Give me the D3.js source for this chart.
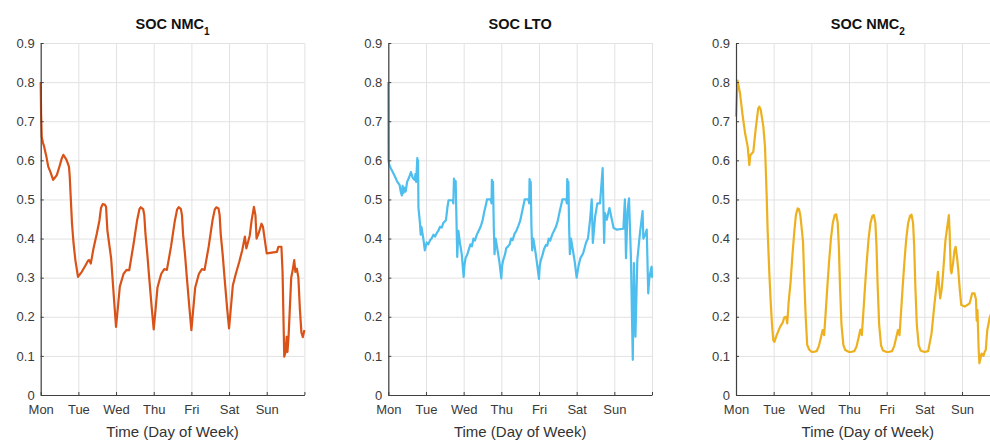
<!DOCTYPE html>
<meta charset="utf-8">
<script src="https://d3js.org/d3.v7.min.js"></script>
<style>
    body { margin: 0; background: #fff; }
    svg text { font-family: "Liberation Sans", Arial, sans-serif; }
</style>
<div id="chart"></div>
<script>
    // ---- data ----
    var dayLabels = ["Mon", "Tue", "Wed", "Thu", "Fri", "Sat", "Sun", ""];
    var dayTicks = [0, 1, 2, 3, 4, 5, 6, 7];
    var socTicks = [0, 0.1, 0.2, 0.3, 0.4, 0.5, 0.6, 0.7, 0.8, 0.9];
    var titles = ["NMC", "LTO", "NMC"];
    var subscripts = ["1", "", "2"];

    // [day, SOC]
    var nmc1 = [
        [0, 0.80], [0.01, 0.72], [0.027, 0.66], [0.06, 0.645], [0.092, 0.635], [0.15, 0.61], [0.2, 0.584],
        [0.26, 0.57], [0.33, 0.55], [0.38, 0.556], [0.43, 0.563], [0.5, 0.585], [0.56, 0.605], [0.6, 0.614],
        [0.65, 0.607], [0.69, 0.6], [0.75, 0.584], [0.77, 0.56], [0.8, 0.5], [0.83, 0.44], [0.87, 0.39],
        [0.92, 0.345], [0.99, 0.302], [1.09, 0.315], [1.18, 0.33], [1.26, 0.344], [1.29, 0.345], [1.33, 0.336],
        [1.4, 0.374], [1.49, 0.413], [1.56, 0.447], [1.6, 0.478], [1.646, 0.488], [1.7, 0.487], [1.735, 0.481],
        [1.77, 0.421], [1.82, 0.385], [1.87, 0.349], [1.95, 0.24], [2.0, 0.174],
        [2.05, 0.225], [2.1, 0.277], [2.2, 0.31], [2.28, 0.32], [2.35, 0.319], [2.46, 0.383], [2.56, 0.447],
        [2.62, 0.475], [2.655, 0.48], [2.72, 0.475], [2.75, 0.46], [2.78, 0.413], [2.83, 0.36], [2.88, 0.30],
        [2.95, 0.22], [3.0, 0.168],
        [3.05, 0.22], [3.1, 0.275], [3.2, 0.31], [3.28, 0.322], [3.35, 0.32], [3.46, 0.38], [3.56, 0.445],
        [3.62, 0.474], [3.66, 0.48], [3.72, 0.476], [3.75, 0.46], [3.78, 0.41], [3.83, 0.36], [3.88, 0.30],
        [3.95, 0.22], [4.0, 0.166],
        [4.05, 0.22], [4.1, 0.274], [4.2, 0.31], [4.28, 0.322], [4.35, 0.32], [4.46, 0.38], [4.56, 0.446],
        [4.62, 0.474], [4.66, 0.48], [4.72, 0.477], [4.75, 0.46], [4.78, 0.41], [4.83, 0.36], [4.88, 0.30],
        [4.95, 0.22], [5.0, 0.17],
        [5.1, 0.28], [5.18, 0.31], [5.27, 0.34], [5.35, 0.37], [5.42, 0.405], [5.46, 0.375], [5.55, 0.408],
        [5.6, 0.447], [5.66, 0.481], [5.7, 0.46], [5.73, 0.40], [5.79, 0.415], [5.86, 0.438], [5.9, 0.43],
        [6.0, 0.362], [6.27, 0.366], [6.31, 0.379], [6.39, 0.379], [6.42, 0.315], [6.465, 0.098], [6.5, 0.11],
        [6.53, 0.149], [6.55, 0.11], [6.58, 0.15], [6.65, 0.3], [6.69, 0.32], [6.73, 0.345], [6.76, 0.315],
        [6.8, 0.323], [6.84, 0.30], [6.88, 0.22], [6.92, 0.16], [6.96, 0.148], [7.0, 0.166]
    ];

    var lto = [
        [0, 0.80], [0.005, 0.60], [0.027, 0.588], [0.09, 0.575], [0.18, 0.558], [0.24, 0.545], [0.3, 0.537],
        [0.33, 0.52], [0.36, 0.51], [0.38, 0.535], [0.4, 0.516], [0.43, 0.53], [0.46, 0.52], [0.5, 0.545],
        [0.56, 0.558], [0.6, 0.57], [0.65, 0.555], [0.7, 0.55], [0.72, 0.565], [0.74, 0.545], [0.77, 0.606],
        [0.78, 0.55], [0.79, 0.60], [0.8, 0.48], [0.82, 0.46], [0.84, 0.44], [0.86, 0.41], [0.88, 0.43],
        [0.93, 0.40], [0.97, 0.37], [1.02, 0.39], [1.06, 0.385], [1.11, 0.396], [1.15, 0.40], [1.2, 0.41],
        [1.24, 0.405], [1.28, 0.413], [1.33, 0.42], [1.37, 0.43], [1.42, 0.428], [1.46, 0.44], [1.53, 0.447],
        [1.57, 0.48], [1.6, 0.498], [1.71, 0.498], [1.726, 0.49], [1.743, 0.553], [1.77, 0.545], [1.788, 0.547],
        [1.81, 0.447], [1.83, 0.353], [1.86, 0.42], [1.9, 0.39], [1.95, 0.36], [2.0, 0.302],
        [2.02, 0.33], [2.05, 0.35], [2.1, 0.36], [2.13, 0.37], [2.18, 0.385], [2.22, 0.38], [2.26, 0.40],
        [2.3, 0.395], [2.35, 0.41], [2.4, 0.42], [2.45, 0.43], [2.5, 0.445], [2.55, 0.47], [2.6, 0.49],
        [2.62, 0.50], [2.72, 0.50], [2.74, 0.49], [2.75, 0.55], [2.77, 0.54], [2.78, 0.545], [2.8, 0.43],
        [2.82, 0.36], [2.85, 0.40], [2.9, 0.37], [2.95, 0.34], [3.0, 0.298],
        [3.02, 0.33], [3.05, 0.345], [3.1, 0.36], [3.13, 0.375], [3.18, 0.38], [3.22, 0.385], [3.26, 0.40],
        [3.3, 0.396], [3.35, 0.412], [3.4, 0.42], [3.45, 0.432], [3.5, 0.445], [3.55, 0.468], [3.6, 0.49],
        [3.62, 0.50], [3.72, 0.50], [3.74, 0.49], [3.75, 0.552], [3.77, 0.54], [3.78, 0.545], [3.8, 0.43],
        [3.82, 0.37], [3.85, 0.40], [3.9, 0.37], [3.95, 0.335], [4.0, 0.297],
        [4.02, 0.33], [4.05, 0.345], [4.1, 0.36], [4.13, 0.372], [4.18, 0.383], [4.22, 0.382], [4.26, 0.40],
        [4.3, 0.395], [4.35, 0.41], [4.4, 0.42], [4.45, 0.43], [4.5, 0.446], [4.55, 0.47], [4.6, 0.49],
        [4.62, 0.50], [4.72, 0.50], [4.74, 0.49], [4.75, 0.552], [4.77, 0.54], [4.78, 0.545], [4.8, 0.43],
        [4.82, 0.36], [4.85, 0.40], [4.9, 0.37], [4.95, 0.34], [5.0, 0.30],
        [5.05, 0.33], [5.1, 0.35], [5.17, 0.362], [5.25, 0.39], [5.3, 0.40], [5.356, 0.448], [5.4, 0.50],
        [5.43, 0.389], [5.49, 0.456], [5.55, 0.49], [5.62, 0.49], [5.69, 0.58], [5.73, 0.389], [5.75, 0.465],
        [5.8, 0.448], [5.87, 0.478], [5.98, 0.427], [6.06, 0.423], [6.24, 0.425], [6.28, 0.50], [6.31, 0.35],
        [6.35, 0.47], [6.39, 0.503], [6.44, 0.353], [6.49, 0.09], [6.52, 0.337], [6.56, 0.149], [6.61, 0.345],
        [6.68, 0.414], [6.75, 0.47], [6.77, 0.40], [6.82, 0.41], [6.86, 0.423], [6.9, 0.26], [6.93, 0.30],
        [6.97, 0.32], [6.99, 0.328], [7.0, 0.30]
    ];

    var nmc2 = [
        [0, 0.712], [0.04, 0.804], [0.106, 0.772], [0.168, 0.721], [0.24, 0.67], [0.31, 0.635], [0.354, 0.588],
        [0.38, 0.613], [0.46, 0.622], [0.52, 0.678], [0.59, 0.733], [0.62, 0.737], [0.655, 0.73], [0.726, 0.686],
        [0.77, 0.635], [0.815, 0.507], [0.84, 0.42], [0.885, 0.311], [0.92, 0.24], [0.956, 0.18], [0.99, 0.14],
        [1.02, 0.136], [1.08, 0.153], [1.17, 0.174], [1.24, 0.185], [1.28, 0.198], [1.33, 0.2], [1.36, 0.183],
        [1.4, 0.24], [1.45, 0.29], [1.5, 0.36], [1.55, 0.42], [1.59, 0.46], [1.637, 0.477], [1.673, 0.475],
        [1.71, 0.458], [1.74, 0.43], [1.78, 0.39], [1.81, 0.30], [1.85, 0.2], [1.89, 0.128], [1.95, 0.115],
        [2.0, 0.111],
        [2.05, 0.11], [2.14, 0.112], [2.2, 0.125], [2.25, 0.145], [2.3, 0.166], [2.32, 0.162], [2.34, 0.153],
        [2.38, 0.21], [2.42, 0.27], [2.47, 0.34], [2.52, 0.40], [2.57, 0.44], [2.62, 0.46], [2.66, 0.462],
        [2.7, 0.44], [2.73, 0.38], [2.76, 0.28], [2.8, 0.18], [2.85, 0.128], [2.9, 0.115], [3.0, 0.11],
        [3.05, 0.11], [3.14, 0.112], [3.2, 0.124], [3.25, 0.145], [3.3, 0.167], [3.32, 0.163], [3.34, 0.153],
        [3.38, 0.21], [3.42, 0.27], [3.47, 0.34], [3.52, 0.40], [3.57, 0.44], [3.62, 0.458], [3.66, 0.46],
        [3.7, 0.44], [3.73, 0.38], [3.76, 0.28], [3.8, 0.18], [3.85, 0.127], [3.9, 0.114], [4.0, 0.11],
        [4.05, 0.11], [4.14, 0.112], [4.2, 0.125], [4.25, 0.146], [4.3, 0.166], [4.32, 0.162], [4.34, 0.153],
        [4.38, 0.21], [4.42, 0.27], [4.47, 0.34], [4.52, 0.40], [4.57, 0.44], [4.62, 0.458], [4.66, 0.461],
        [4.7, 0.44], [4.73, 0.38], [4.76, 0.28], [4.8, 0.18], [4.85, 0.127], [4.9, 0.114], [5.0, 0.11],
        [5.1, 0.112], [5.19, 0.157], [5.27, 0.234], [5.32, 0.277], [5.36, 0.315], [5.39, 0.28], [5.42, 0.247],
        [5.46, 0.27], [5.49, 0.302], [5.56, 0.396], [5.62, 0.438], [5.65, 0.46], [5.67, 0.42], [5.7, 0.32],
        [5.72, 0.311], [5.76, 0.336], [5.8, 0.37], [5.83, 0.379], [5.87, 0.35], [5.9, 0.32], [5.94, 0.27],
        [5.98, 0.23], [6.07, 0.226], [6.2, 0.234], [6.27, 0.26], [6.33, 0.26], [6.37, 0.245], [6.39, 0.19],
        [6.41, 0.217], [6.44, 0.12], [6.46, 0.081], [6.52, 0.106], [6.57, 0.1], [6.6, 0.11], [6.63, 0.115],
        [6.67, 0.166], [6.74, 0.2], [6.78, 0.21]
    ];

    var series = [nmc1, lto, nmc2];
    var colors = ["#D95319", "#4DBEEE", "#EDB120"];

    // ---- layout ----
    var width = 990, height = 440;
    var panelLeft = [40.7, 388.3, 736];
    var margin = { top: 43 };
    var plotW = 263.7, plotH = 352;

    var svg = d3.select("#chart").append("svg")
        .attr("width", width)
        .attr("height", height);

    var x = d3.scaleLinear().domain([0, 7]).range([0, plotW]);
    var y = d3.scaleLinear().domain([0, 0.9]).range([plotH, 0]);

    var line = d3.line()
        .x(function(d) { return x(d[0]); })
        .y(function(d) { return y(d[1]); });

    series.forEach(function(data, i) {
        var g = svg.append("g")
            .attr("transform", "translate(" + panelLeft[i] + "," + margin.top + ")");

        // grid
        g.append("g")
            .attr("class", "grid")
            .attr("transform", "translate(0," + plotH + ")")
            .call(d3.axisBottom(x).tickValues(dayTicks).tickSize(-plotH).tickFormat(""))
            .call(function(s) { s.select(".domain").remove(); });
        g.append("g")
            .attr("class", "grid")
            .call(d3.axisLeft(y).tickValues(socTicks).tickSize(-plotW).tickFormat(""))
            .call(function(s) { s.select(".domain").remove(); });
        g.selectAll(".grid line").attr("stroke", "#e2e2e2").attr("stroke-width", 1);

        // the curve
        g.append("path")
            .datum(data)
            .attr("fill", "none")
            .attr("stroke", colors[i])
            .attr("stroke-width", 2.2)
            .attr("stroke-linejoin", "round")
            .attr("d", line);

        // axes
        var xAxis = g.append("g")
            .attr("transform", "translate(0," + plotH + ")")
            .call(d3.axisBottom(x).tickValues(dayTicks).tickSize(-3).tickSizeOuter(0).tickPadding(10)
                .tickFormat(function(d) { return dayLabels[d]; }));
        var yAxis = g.append("g")
            .call(d3.axisLeft(y).tickValues(socTicks).tickSize(-3).tickSizeOuter(0).tickPadding(6)
                .tickFormat(d3.format("~g")));

        [xAxis, yAxis].forEach(function(a) {
            a.select(".domain").attr("stroke", "#404040").attr("stroke-width", 1.2);
            a.selectAll(".tick line").attr("stroke", "#404040");
            a.selectAll("text")
                .attr("fill", "#3a3a3a")
                .attr("font-size", "13px")
                .attr("font-family", "Liberation Sans, Arial, sans-serif");
        });

        // title
        var t = g.append("text")
            .attr("x", plotW / 2)
            .attr("y", 29 - margin.top)
            .attr("text-anchor", "middle")
            .attr("font-size", "14.5px")
            .attr("font-weight", "bold")
            .attr("fill", "#111")
            .text("SOC " + titles[i]);
        if (subscripts[i]) {
            t.append("tspan")
                .attr("dy", 6)
                .attr("font-size", "10px")
                .text(subscripts[i]);
        }

        // x label
        g.append("text")
            .attr("x", plotW / 2)
            .attr("y", 437 - margin.top)
            .attr("text-anchor", "middle")
            .attr("font-size", "15px")
            .attr("fill", "#333")
            .text("Time (Day of Week)");
    });
</script>
